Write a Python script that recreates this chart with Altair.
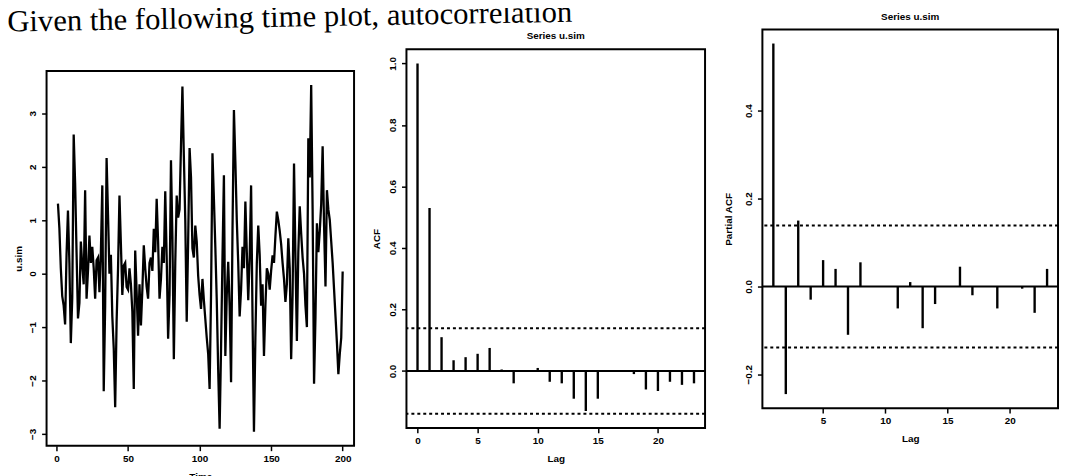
import altair as alt
import pandas as pd

# ---- data ----
header_text = "Given the following time plot, autocorrelation"
series_title = "Series u.sim"

u_sim = [
    1.31, 0.85, 0.10, -0.42, -0.60, -0.95, 0.35, 1.18, 0.20, -1.30,
    -0.45, 2.60, 1.70, 0.40, -0.84, -0.55, 0.60, 0.15, -0.20, 1.56,
    -0.47, 0.05, 0.71, 0.20, 0.50, 0.10, -0.47, 0.25, 0.30, -0.35,
    0.40, 1.65, -2.20, -0.60, 2.16, 1.10, 0.00, 0.35, -0.80, -1.40,
    -2.50, -0.90, 0.10, 1.46, 0.55, -0.40, 0.15, 0.20, -0.25, -0.30,
    0.10, -0.20, -0.71, -2.16, 0.43, -0.35, -1.16, -0.20, -0.97, -0.30,
    0.53, 0.10, -0.25, -0.47, 0.20, 0.30, 0.05, 0.84, 0.40, 1.40,
    0.60, -0.47, -0.10, 0.50, 0.20, 1.54, 0.30, -1.22, -0.40, 2.12,
    0.70, -1.60, 0.20, 1.46, 1.05, 1.20, 2.40, 3.50, 2.20, 1.00,
    -0.90, 0.60, 2.35, 1.80, 0.47, 0.30, 0.90, 0.60, -0.04, -0.40,
    -0.66, -0.10, -0.50, -0.85, -1.20, -1.50, -2.16, -0.40, 2.25, 1.40,
    0.50, -0.50, -1.80, -2.90, -1.40, 0.30, 1.84, -1.54, -0.40, 0.22,
    -0.60, -2.03, 0.80, 3.06, 2.10, 1.00, 0.20, -0.80, -0.30, 0.50,
    0.10, 1.35, 0.40, -0.50, 0.30, 1.65, -0.80, -2.96, -1.20, 0.20,
    0.90, 0.35, -0.60, -0.20, -1.54, -0.60, 0.10, 0.00, -0.30, 0.05,
    0.34, 0.20, 0.70, 1.16, 1.00, 0.80, 0.55, 0.20, -0.10, -0.53,
    -0.20, 0.66, 0.10, -1.60, -0.40, 2.06, 0.30, -1.26, 0.40, 1.26,
    0.75, 0.30, 0.00, -0.60, -1.00, 2.53, 1.80, 3.53, 1.20, -2.06,
    -0.80, 0.94, 0.40, 0.80, 1.30, 2.38, 0.90, -0.24, 1.56, 1.20,
    1.00, 0.60, 0.20, -0.30, -0.80, -1.30, -1.88, -1.50, -1.20, 0.04,
]
time_idx = list(range(1, len(u_sim) + 1))

acf_lags = list(range(0, 24))
acf_vals = [1.0, 0.53, 0.11, 0.035, 0.045, 0.056, 0.075, 0.005, -0.04, 0.0,
            0.01, -0.035, -0.04, -0.09, -0.13, -0.09, 0.0, 0.0, -0.01, -0.06,
            -0.065, -0.035, -0.045, -0.04]

pacf_lags = list(range(1, 24))
pacf_vals = [0.553, -0.245, 0.15, -0.03, 0.06, 0.04, -0.11, 0.055, 0.0, 0.0,
             -0.05, 0.01, -0.095, -0.04, 0.0, 0.045, -0.02, 0.0, -0.05, 0.0,
             -0.005, -0.06, 0.04]

ci_bounds = [-0.139, 0.139]
zero_line = [0.0]

time_ticks = [0, 50, 100, 150, 200]
u_ticks = [-3, -2, -1, 0, 1, 2, 3]
acf_yticks = [0.0, 0.2, 0.4, 0.6, 0.8, 1.0]
pacf_yticks = [-0.2, 0.0, 0.2, 0.4]
acf_xticks = [0, 5, 10, 15, 20]
pacf_xticks = [5, 10, 15, 20]

# ---- tables ----
ts_df = pd.DataFrame({"time": time_idx, "usim": u_sim})
acf_df = pd.DataFrame({"lag": acf_lags, "acf": acf_vals})
pacf_df = pd.DataFrame({"lag": pacf_lags, "pacf": pacf_vals})
ci_df = pd.DataFrame({"b": ci_bounds})
zero_df = pd.DataFrame({"z": zero_line})
blank_df = pd.DataFrame({"h": [0]})

FONT = "Liberation Sans"
frame = alt.ViewBackground(stroke="black", strokeWidth=2, fill="white")
noframe = alt.ViewBackground(stroke=None, fill=None)


def xaxis(values, title, fmt="d"):
    return alt.Axis(values=values, title=title, format=fmt, domain=False,
                    ticks=True, tickSize=5, tickWidth=1.5, tickColor="black",
                    labelFont=FONT, labelFontSize=10, labelFontWeight="bold",
                    labelColor="black", labelPadding=3, grid=False,
                    titleFont=FONT, titleFontSize=10, titleFontWeight="bold",
                    titleColor="black", titlePadding=8)


def yaxis(values, title, fmt, tpad=6):
    return alt.Axis(values=values, title=title, format=fmt, domain=False,
                    ticks=True, tickSize=5, tickWidth=1.5, tickColor="black",
                    labelFont=FONT, labelFontSize=10, labelFontWeight="bold",
                    labelColor="black", labelAngle=270, labelAlign="center",
                    labelBaseline="bottom", labelPadding=4, grid=False,
                    titleFont=FONT, titleFontSize=10, titleFontWeight="bold",
                    titleColor="black", titlePadding=tpad)


def spacer(w, h):
    return alt.Chart(blank_df).mark_point(size=0, opacity=0).encode(
        x=alt.value(0), y=alt.value(0)).properties(width=w, height=h, view=noframe)


# ---- panel 1: time plot ----
W1, H1 = 311, 379
ts_chart = alt.Chart(ts_df).mark_line(color="black", strokeWidth=2.3).encode(
    x=alt.X("time:Q", scale=alt.Scale(domain=[-6.96, 207.96], nice=False, zero=False),
            axis=xaxis(time_ticks, "Time")),
    y=alt.Y("usim:Q", scale=alt.Scale(domain=[-3.22, 3.79], nice=False, zero=False),
            axis=yaxis(u_ticks, "u.sim", "d", tpad=4)),
).properties(width=W1, height=H1, view=frame)

col1 = alt.vconcat(spacer(W1, 41), ts_chart, spacing=0)

# ---- panel 2: ACF ----
W2, H2 = 302, 383
acf_x = alt.Scale(domain=[-0.92, 23.92], nice=False, zero=False)
acf_y = alt.Scale(domain=[-0.185, 1.046], nice=False, zero=False)

acf_bars = alt.Chart(acf_df).mark_rule(color="black", strokeWidth=2.4).encode(
    x=alt.X("lag:Q", scale=acf_x, axis=xaxis(acf_xticks, "Lag")),
    y=alt.Y("acf:Q", scale=acf_y, axis=yaxis(acf_yticks, "ACF", ".1f")),
    y2=alt.datum(0),
)
acf_zero = alt.Chart(zero_df).mark_rule(color="black", strokeWidth=2).encode(
    y=alt.Y("z:Q", scale=acf_y))
acf_ci = alt.Chart(ci_df).mark_rule(color="black", strokeWidth=2, strokeDash=[3, 3]).encode(
    y=alt.Y("b:Q", scale=acf_y))

acf_chart = alt.layer(acf_zero, acf_ci, acf_bars).properties(
    width=W2, height=H2, view=frame,
    title=alt.TitleParams(series_title, font=FONT, fontSize=10, fontWeight="bold",
                          color="black", offset=8))

col2 = alt.vconcat(spacer(W2, 1), acf_chart, spacing=0)

# ---- panel 3: PACF ----
W3, H3 = 299, 383
pacf_x = alt.Scale(domain=[0.12, 23.88], nice=False, zero=False)
pacf_y = alt.Scale(domain=[-0.277, 0.585], nice=False, zero=False)

pacf_bars = alt.Chart(pacf_df).mark_rule(color="black", strokeWidth=2.4).encode(
    x=alt.X("lag:Q", scale=pacf_x, axis=xaxis(pacf_xticks, "Lag")),
    y=alt.Y("pacf:Q", scale=pacf_y,
            axis=yaxis(pacf_yticks, "Partial ACF", ".1f", tpad=10)),
    y2=alt.datum(0),
)
pacf_zero = alt.Chart(zero_df).mark_rule(color="black", strokeWidth=2).encode(
    y=alt.Y("z:Q", scale=pacf_y))
pacf_ci = alt.Chart(ci_df).mark_rule(color="black", strokeWidth=2, strokeDash=[3, 3]).encode(
    y=alt.Y("b:Q", scale=pacf_y))

pacf_chart = alt.layer(pacf_zero, pacf_ci, pacf_bars).properties(
    width=W3, height=H3, view=frame,
    title=alt.TitleParams(series_title, font=FONT, fontSize=10, fontWeight="bold",
                          color="black", offset=8))

chart = alt.hconcat(col1, col2, pacf_chart, spacing=16).properties(
    padding={"top": -14, "left": -2, "right": 0, "bottom": 0},
    background="white",
    title=alt.TitleParams(header_text, anchor="start", font="Liberation Serif",
                          fontSize=31, fontWeight="normal", color="black",
                          offset=-38, angle=359, frame="bounds", dx=-6),
)

chart.save("out.html", embed_options={"renderer": "svg", "actions": False})
